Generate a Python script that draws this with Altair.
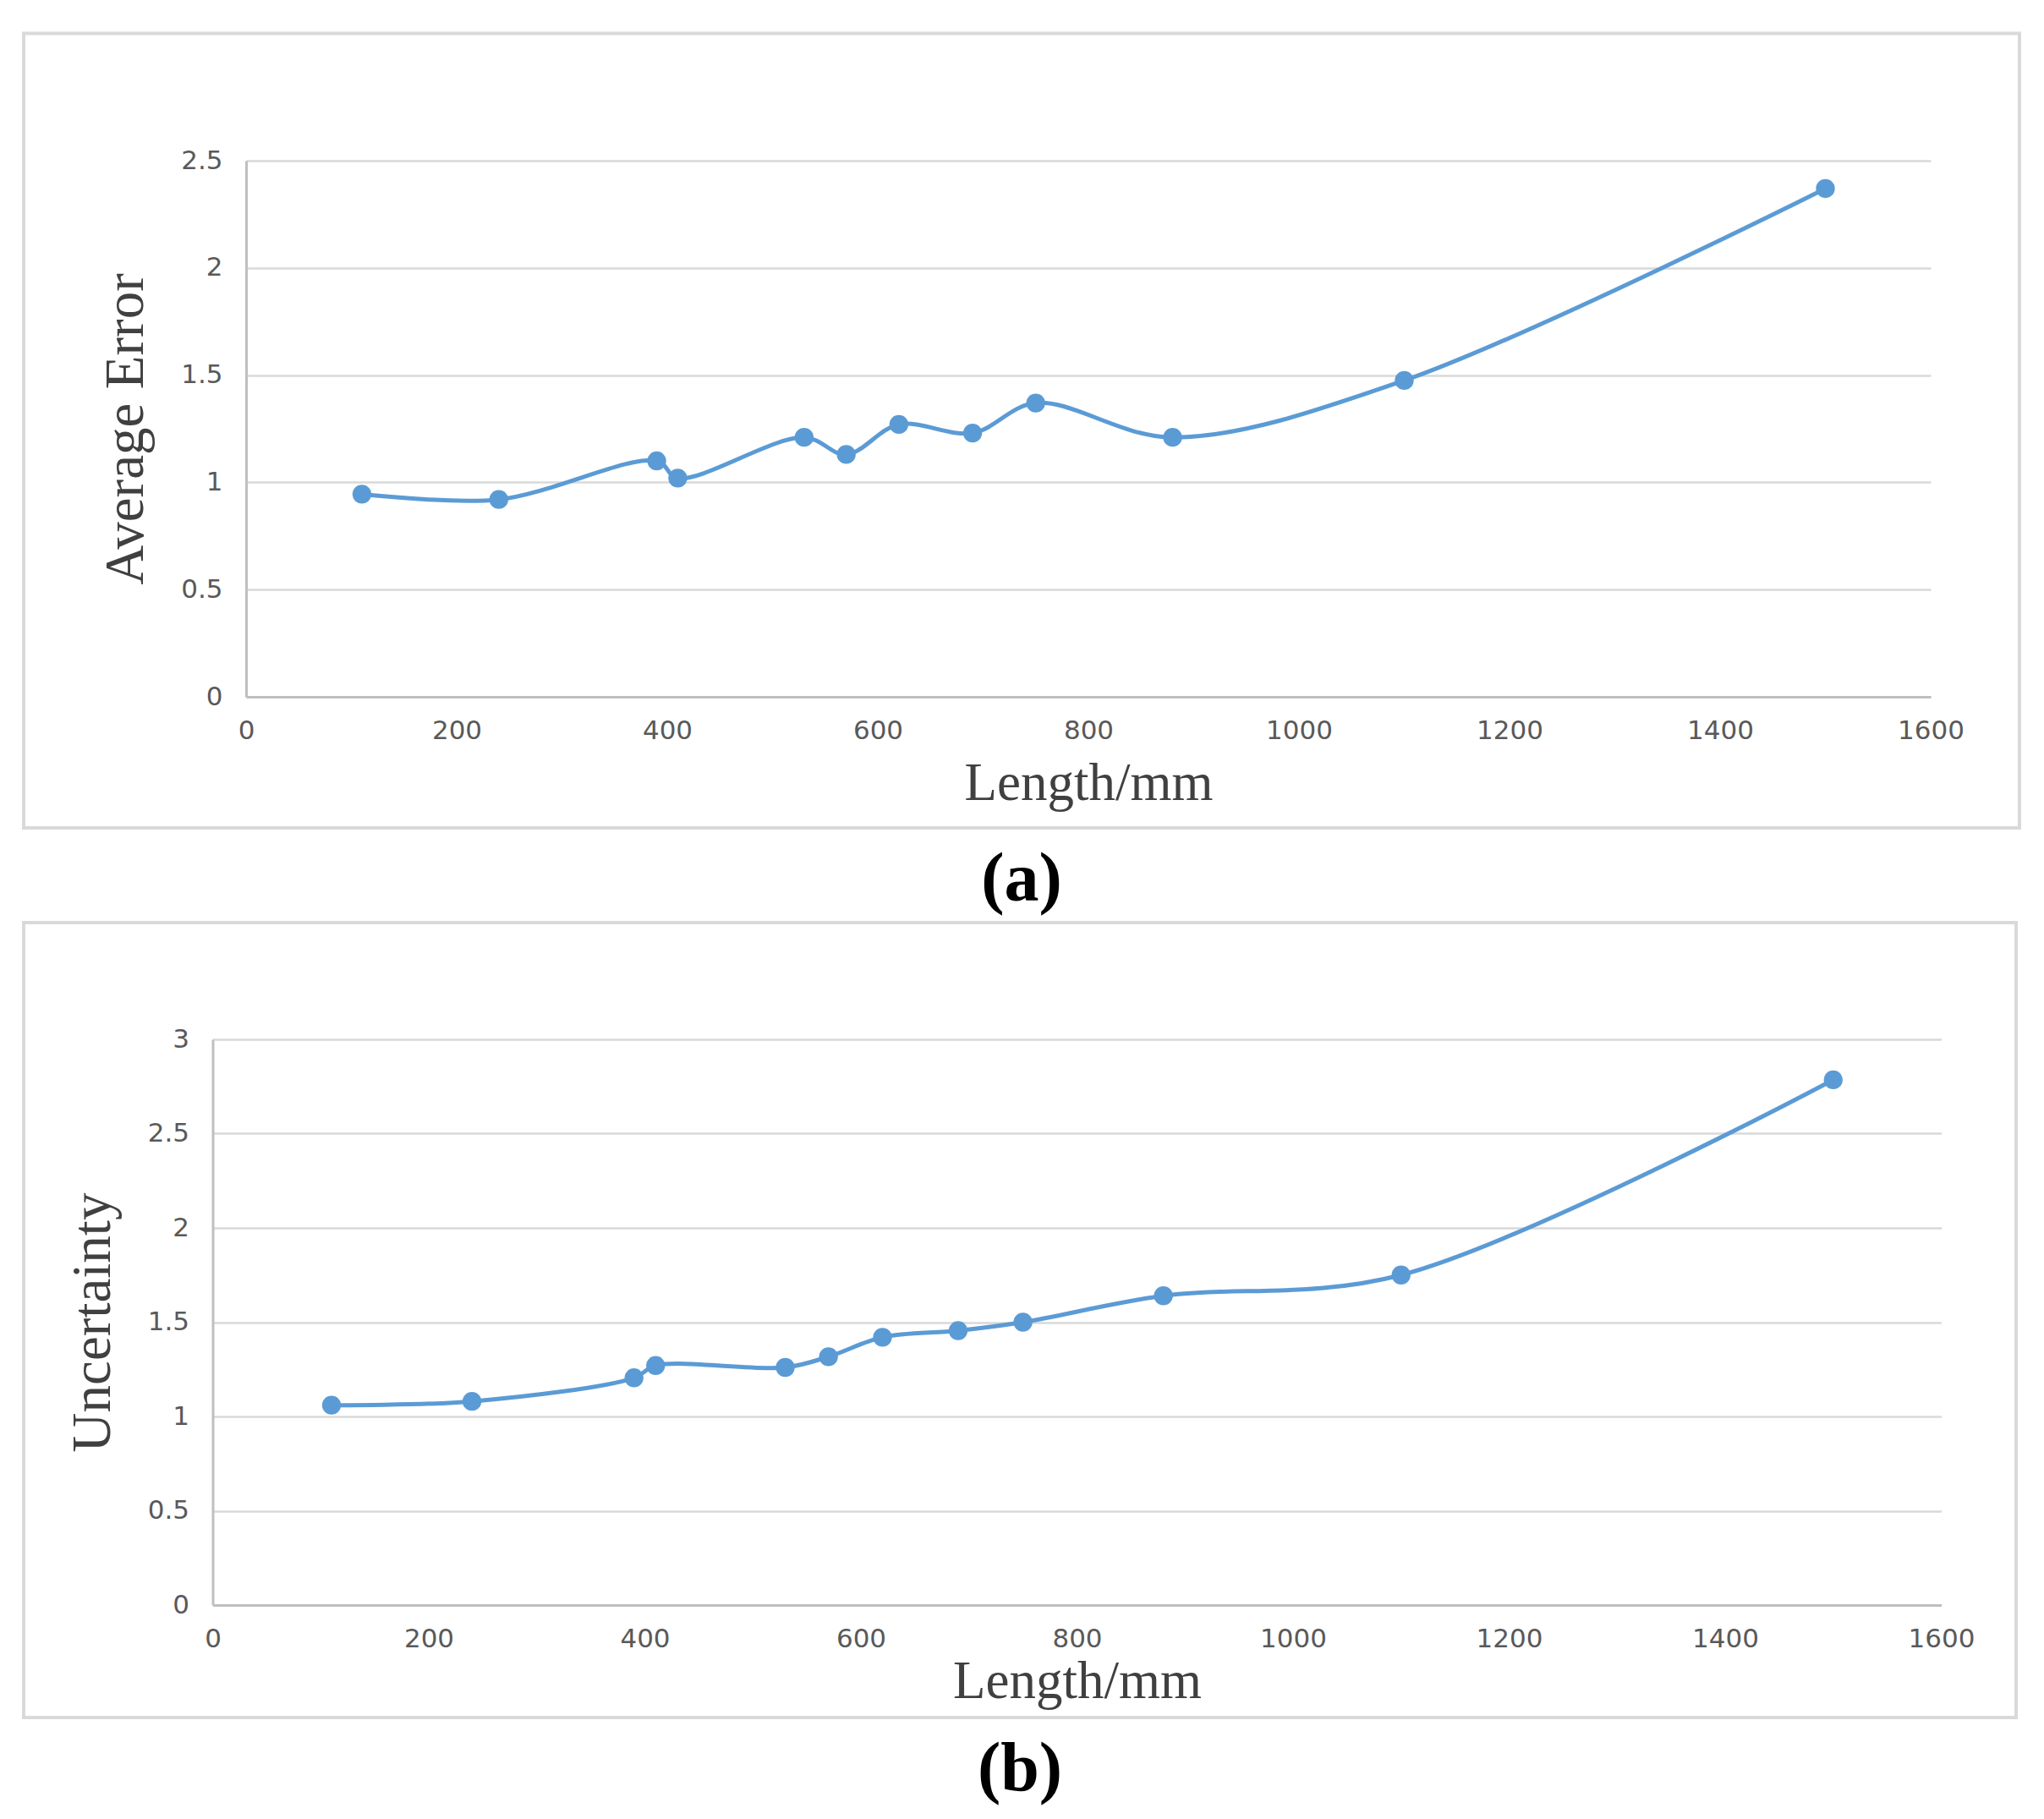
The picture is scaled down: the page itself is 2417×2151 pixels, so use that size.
import altair as alt
import pandas as pd

# ---- data ----
lengths = [110, 240, 390, 410, 530, 570, 620, 690, 750, 880, 1100, 1500]
avg_error = [0.945, 0.92, 1.10, 1.02, 1.21, 1.13, 1.27, 1.23, 1.37, 1.21, 1.475, 2.37]
uncertainty = [1.06, 1.08, 1.205, 1.27, 1.26, 1.317, 1.42, 1.455, 1.50, 1.64, 1.75, 2.785]

x_ticks = [0, 200, 400, 600, 800, 1000, 1200, 1400, 1600]
y_ticks_a = [0, 0.5, 1, 1.5, 2, 2.5]
y_ticks_b = [0, 0.5, 1, 1.5, 2, 2.5, 3]

LINE_COLOR = "#5B9BD5"


def panel(values, ytitle, yticks, ymax, W, H, shift, box, label, xtitle_pad):
    df = pd.DataFrame({"Length": lengths, "Value": values})
    x = alt.X(
        "Length:Q",
        scale=alt.Scale(domain=[0, 1600], nice=False, zero=False,
                        range=[-shift, W - shift]),
        axis=alt.Axis(values=x_ticks, format="d", title="Length/mm", grid=False,
                      labelPadding=25, titlePadding=xtitle_pad, labelFlush=False),
    )
    y = alt.Y(
        "Value:Q",
        scale=alt.Scale(domain=[0, ymax], nice=False),
        axis=alt.Axis(values=yticks, format="~g", title=ytitle, grid=True,
                      labelPadding=28, titlePadding=31, offset=shift,
                      labelFlush=False),
    )
    line = alt.Chart(df).mark_line(
        interpolate="catmull-rom", color=LINE_COLOR, strokeWidth=5
    ).encode(x=x, y=y)
    pts = alt.Chart(df).mark_point(
        filled=True, size=500, opacity=1, color=LINE_COLOR
    ).encode(x=x, y=y)
    l, r, t, b = box
    frame = alt.Chart(pd.DataFrame({"k": [0]})).mark_rect(
        fillOpacity=0, stroke="#d9d9d9", strokeWidth=4
    ).encode(
        x=alt.value(l), x2=alt.value(r), y=alt.value(t), y2=alt.value(H + b)
    )
    return alt.layer(frame, line, pts).properties(
        width=W,
        height=H,
        title=alt.TitleParams(
            label, orient="bottom", anchor="middle", frame="bounds",
            font="Liberation Serif", fontSize=82, fontWeight="bold",
            color="#000000", offset=19,
        ),
    )


# panel (a): plot area 1992 x 634
a = panel(avg_error, "Average Error", y_ticks_a, 2.5, 1992, 634, 0,
          (-263, 1992 + 105, -150.5, 155), "(a)", 16)
# panel (b): plot area 2044 x 669, sitting 39.5 px further left than (a)
b = panel(uncertainty, "Uncertainty", y_ticks_b, 3, 2044, 669, 39.5,
          (-263, 2093, -138, 133), "(b)", 4)

chart = alt.vconcat(a, b, spacing=8).properties(
    padding={"left": 18, "top": 29, "right": 0, "bottom": 10},
    background="white",
).configure_view(
    stroke=None
).configure_axis(
    domain=True,
    domainColor="#bfbfbf",
    domainWidth=3,
    ticks=False,
    tickSize=0,
    gridColor="#d9d9d9",
    gridWidth=2.5,
    labelFont="DejaVu Sans",
    labelFontSize=31,
    labelColor="#595959",
    titleFont="Liberation Serif",
    titleFontWeight="normal",
    titleFontSize=63,
    titleColor="#404040",
).configure_axisY(
    titleFontSize=65,
)

chart.save("out.html", embed_options={"renderer": "svg", "actions": False})
